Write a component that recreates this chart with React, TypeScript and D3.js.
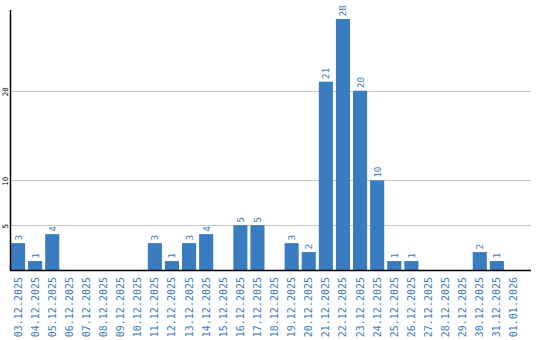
import React from "react";
import * as d3 from "d3";

const categories = [
  "03.12.2025","04.12.2025","05.12.2025","06.12.2025","07.12.2025","08.12.2025",
  "09.12.2025","10.12.2025","11.12.2025","12.12.2025","13.12.2025","14.12.2025",
  "15.12.2025","16.12.2025","17.12.2025","18.12.2025","19.12.2025","20.12.2025",
  "21.12.2025","22.12.2025","23.12.2025","24.12.2025","25.12.2025","26.12.2025",
  "27.12.2025","28.12.2025","29.12.2025","30.12.2025","31.12.2025","01.01.2026",
];
const values = [3,1,4,0,0,0,0,0,3,1,3,4,0,5,5,0,3,2,21,28,20,10,1,1,0,0,0,2,1,0];
const yTicks = [5, 10, 20];

const W = 540, H = 340;
const left = 11, right = 531, top = 10, bottom = 270;
const blue = "#3a7cc1";
const font = "'DejaVu Sans Mono', monospace";

export default function App() {
  const x = d3.scaleBand<string>().domain(categories).range([left, left + 17 * categories.length]).paddingInner(3 / 17).paddingOuter(0).align(0);
  const y = d3.scaleLinear().domain([0, 29]).range([bottom, top]);
  const step = x.step();
  const bw = step - 3;
  return (
    <svg width={W} height={H} style={{ position: "absolute", left: 0, top: 0 }}>
      {yTicks.map((t) => (
        <g key={t}>
          <line x1={left} x2={right} y1={Math.round(y(t)) + 0.5} y2={Math.round(y(t)) + 0.5} stroke="#c8c8c8" strokeWidth={1} />
          <text transform={`translate(7.5,${y(t) + 1}) rotate(-90)`} textAnchor="middle" fontSize={7.5} fontFamily={font} fill="#000">{t}</text>
        </g>
      ))}
      {categories.map((c, i) => {
        const v = values[i];
        const x0 = left + i * step;
        const cx = x0 + bw / 2;
        return (
          <g key={c}>
            {v > 0 && (
              <>
                <rect x={x0} y={y(v)} width={bw} height={bottom - y(v)} fill={blue} />
                <text transform={`translate(${cx + 3.5},${y(v) - 2.5}) rotate(-90)`} textAnchor="start" fontSize={9.5} fontFamily={font} fill={blue}>{v}</text>
              </>
            )}
            <text transform={`translate(${cx + 3.5},${bottom + 7}) rotate(-90)`} textAnchor="end" fontSize={10} fontFamily={font} fill={blue}>{c}</text>
          </g>
        );
      })}
      <line x1={left - 0.5} x2={left - 0.5} y1={top} y2={bottom + 1} stroke="#000" strokeWidth={1.5} />
      <line x1={left - 1} x2={right} y1={bottom + 0.5} y2={bottom + 0.5} stroke="#000" strokeWidth={1.5} />
    </svg>
  );
}
